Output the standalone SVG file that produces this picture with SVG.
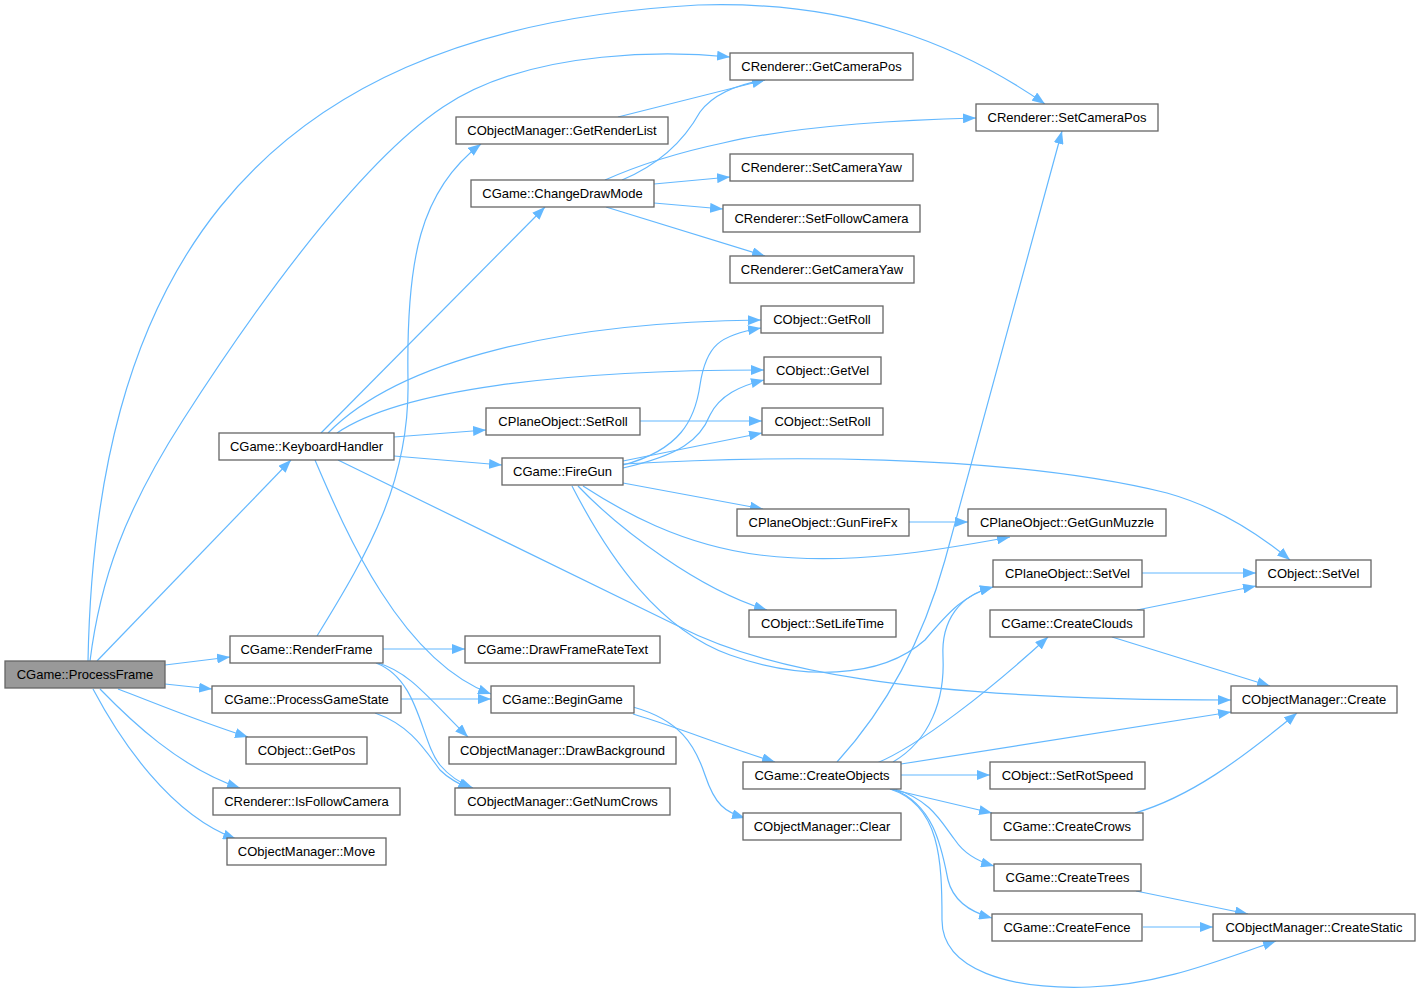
<svg xmlns="http://www.w3.org/2000/svg" width="1420" height="994" viewBox="0 0 1420 994">
<defs>
<marker id="ah" markerUnits="userSpaceOnUse" markerWidth="14" markerHeight="10" refX="13" refY="5" orient="auto">
<path d="M0,0 L13,5 L0,10 z" fill="#63b8ff"/>
</marker>
<style>
.n rect{fill:#ffffff;stroke:#666666;stroke-width:1.3}
.n.root rect{fill:#999999}
.n text{font-family:"Liberation Sans",Arial,sans-serif;font-size:13px;fill:#000000;text-anchor:middle;dominant-baseline:central}
#edges path{fill:none;stroke:#63b8ff;stroke-width:1.2;marker-end:url(#ah)}
</style>
</defs>
<rect width="1420" height="994" fill="#ffffff"/>
<g id="edges">
<path d="M88,661 C95,300 230,30 698,5 C850,0 960,45 1045,104"/>
<path d="M90,661 C100,581 124,512 183,420 C242,328 352,168 443,107 C534,46 680,52 730,57"/>
<path d="M97,661 L291,460"/>
<path d="M165,665 L230,657"/>
<path d="M165,684 L212,689"/>
<path d="M118,689 C150,701 200,722 248,737"/>
<path d="M100,689 C130,720 180,768 240,788"/>
<path d="M93,689 C120,740 170,815 236,839"/>
<path d="M321,433 L545,207"/>
<path d="M328,433 C400,360 560,322 761,320"/>
<path d="M337,433 C400,390 560,370 764,370"/>
<path d="M394,437 L486,430"/>
<path d="M394,456 L502,465"/>
<path d="M315,460 C345,530 400,660 491,694"/>
<path d="M338,460 L680,627 C760,668 900,700 1231,700"/>
<path d="M317,636 C370,550 410,480 408,380 C406,260 420,190 481,144"/>
<path d="M383,649 L465,649"/>
<path d="M378,663 C410,672 430,700 468,737"/>
<path d="M376,663 C420,680 420,740 440,765 C450,777 460,783 473,788"/>
<path d="M401,699 L491,699"/>
<path d="M375,713 C410,725 425,750 440,770 C450,780 460,784 471,789"/>
<path d="M622,180 C670,160 690,130 700,112 C715,92 740,84 765,80"/>
<path d="M605,180 C650,160 690,150 723,143 C800,125 900,120 976,118"/>
<path d="M654,184 L730,177"/>
<path d="M654,203 L723,209"/>
<path d="M606,207 L765,256"/>
<path d="M618,117 L765,80"/>
<path d="M640,421 L762,421"/>
<path d="M623,465 C680,450 695,420 700,385 C706,345 720,335 761,328"/>
<path d="M623,468 C680,455 700,440 710,415 C720,395 740,386 764,380"/>
<path d="M623,461 L762,433"/>
<path d="M623,464 C760,456 1000,452 1167,493 C1220,508 1260,535 1290,560"/>
<path d="M623,483 L763,509"/>
<path d="M583,486 C620,510 680,545 760,555 C850,566 940,550 1010,537"/>
<path d="M578,486 C620,530 700,590 767,610"/>
<path d="M572,486 C610,560 660,630 730,655 C800,680 880,680 925,640 C950,610 965,595 993,587"/>
<path d="M909,522 L968,522"/>
<path d="M837,762 C880,715 920,650 945,560 L1062,131"/>
<path d="M893,762 C930,740 945,700 943,657 C941,620 960,595 993,587"/>
<path d="M877,763 C920,745 990,690 1048,637"/>
<path d="M901,764 L1231,712"/>
<path d="M901,775 L990,775"/>
<path d="M890,789 L992,813"/>
<path d="M895,789 C930,800 940,820 955,840 C965,855 980,862 994,866"/>
<path d="M893,789 C935,805 942,850 948,880 C953,900 970,912 992,918"/>
<path d="M890,789 C940,805 942,860 942,920 C942,970 1010,990 1090,987 C1160,985 1220,960 1276,941"/>
<path d="M633,714 C680,728 720,745 775,762"/>
<path d="M633,707 C680,720 695,745 705,775 C715,805 725,812 745,818"/>
<path d="M1142,573 L1256,573"/>
<path d="M1137,610 L1256,586"/>
<path d="M1112,637 L1270,686"/>
<path d="M1135,813 C1190,797 1240,760 1297,713"/>
<path d="M1136,891 L1248,914"/>
<path d="M1143,927 L1213,927"/>
</g>
<g id="n0" class="n root"><rect x="5" y="661" width="160" height="27"/><text x="85" y="674.5">CGame::ProcessFrame</text></g>
<g id="n1" class="n"><rect x="219" y="433" width="175" height="27"/><text x="306.5" y="446.5">CGame::KeyboardHandler</text></g>
<g id="n2" class="n"><rect x="230" y="636" width="153" height="27"/><text x="306.5" y="649.5">CGame::RenderFrame</text></g>
<g id="n3" class="n"><rect x="212" y="686" width="189" height="27"/><text x="306.5" y="699.5">CGame::ProcessGameState</text></g>
<g id="n4" class="n"><rect x="246" y="737" width="121" height="27"/><text x="306.5" y="750.5">CObject::GetPos</text></g>
<g id="n5" class="n"><rect x="213" y="788" width="187" height="27"/><text x="306.5" y="801.5">CRenderer::IsFollowCamera</text></g>
<g id="n6" class="n"><rect x="227" y="838" width="159" height="27"/><text x="306.5" y="851.5">CObjectManager::Move</text></g>
<g id="n7" class="n"><rect x="456" y="117" width="212" height="27"/><text x="562" y="130.5">CObjectManager::GetRenderList</text></g>
<g id="n8" class="n"><rect x="471" y="180" width="183" height="27"/><text x="562.5" y="193.5">CGame::ChangeDrawMode</text></g>
<g id="n9" class="n"><rect x="486" y="408" width="154" height="27"/><text x="563" y="421.5">CPlaneObject::SetRoll</text></g>
<g id="n10" class="n"><rect x="502" y="458" width="121" height="27"/><text x="562.5" y="471.5">CGame::FireGun</text></g>
<g id="n11" class="n"><rect x="465" y="636" width="195" height="27"/><text x="562.5" y="649.5">CGame::DrawFrameRateText</text></g>
<g id="n12" class="n"><rect x="491" y="686" width="143" height="27"/><text x="562.5" y="699.5">CGame::BeginGame</text></g>
<g id="n13" class="n"><rect x="449" y="737" width="227" height="27"/><text x="562.5" y="750.5">CObjectManager::DrawBackground</text></g>
<g id="n14" class="n"><rect x="455" y="788" width="215" height="27"/><text x="562.5" y="801.5">CObjectManager::GetNumCrows</text></g>
<g id="n15" class="n"><rect x="730" y="53" width="183" height="27"/><text x="821.5" y="66.5">CRenderer::GetCameraPos</text></g>
<g id="n16" class="n"><rect x="730" y="154" width="183" height="27"/><text x="821.5" y="167.5">CRenderer::SetCameraYaw</text></g>
<g id="n17" class="n"><rect x="723" y="205" width="197" height="27"/><text x="821.5" y="218.5">CRenderer::SetFollowCamera</text></g>
<g id="n18" class="n"><rect x="730" y="256" width="184" height="27"/><text x="822" y="269.5">CRenderer::GetCameraYaw</text></g>
<g id="n19" class="n"><rect x="761" y="306" width="122" height="27"/><text x="822" y="319.5">CObject::GetRoll</text></g>
<g id="n20" class="n"><rect x="764" y="357" width="117" height="27"/><text x="822.5" y="370.5">CObject::GetVel</text></g>
<g id="n21" class="n"><rect x="762" y="408" width="121" height="27"/><text x="822.5" y="421.5">CObject::SetRoll</text></g>
<g id="n22" class="n"><rect x="737" y="509" width="172" height="27"/><text x="823" y="522.5">CPlaneObject::GunFireFx</text></g>
<g id="n23" class="n"><rect x="749" y="610" width="147" height="27"/><text x="822.5" y="623.5">CObject::SetLifeTime</text></g>
<g id="n24" class="n"><rect x="743" y="762" width="158" height="27"/><text x="822" y="775.5">CGame::CreateObjects</text></g>
<g id="n25" class="n"><rect x="743" y="813" width="158" height="27"/><text x="822" y="826.5">CObjectManager::Clear</text></g>
<g id="n26" class="n"><rect x="976" y="104" width="182" height="27"/><text x="1067" y="117.5">CRenderer::SetCameraPos</text></g>
<g id="n27" class="n"><rect x="968" y="509" width="198" height="27"/><text x="1067" y="522.5">CPlaneObject::GetGunMuzzle</text></g>
<g id="n28" class="n"><rect x="993" y="560" width="149" height="27"/><text x="1067.5" y="573.5">CPlaneObject::SetVel</text></g>
<g id="n29" class="n"><rect x="990" y="610" width="154" height="27"/><text x="1067" y="623.5">CGame::CreateClouds</text></g>
<g id="n30" class="n"><rect x="990" y="762" width="155" height="27"/><text x="1067.5" y="775.5">CObject::SetRotSpeed</text></g>
<g id="n31" class="n"><rect x="991" y="813" width="152" height="27"/><text x="1067" y="826.5">CGame::CreateCrows</text></g>
<g id="n32" class="n"><rect x="994" y="864" width="147" height="27"/><text x="1067.5" y="877.5">CGame::CreateTrees</text></g>
<g id="n33" class="n"><rect x="992" y="914" width="150" height="27"/><text x="1067" y="927.5">CGame::CreateFence</text></g>
<g id="n34" class="n"><rect x="1256" y="560" width="115" height="27"/><text x="1313.5" y="573.5">CObject::SetVel</text></g>
<g id="n35" class="n"><rect x="1231" y="686" width="166" height="27"/><text x="1314" y="699.5">CObjectManager::Create</text></g>
<g id="n36" class="n"><rect x="1213" y="914" width="202" height="27"/><text x="1314" y="927.5">CObjectManager::CreateStatic</text></g>
</svg>
